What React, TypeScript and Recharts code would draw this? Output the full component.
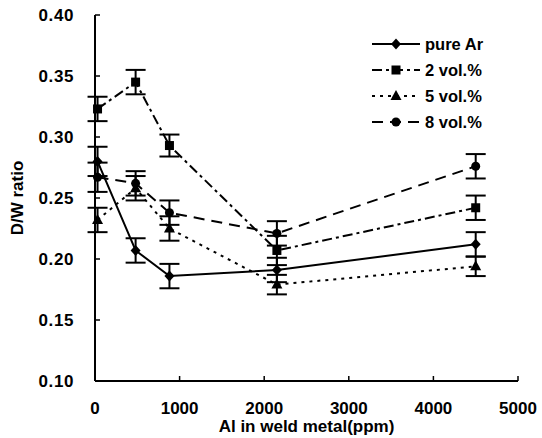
import React from 'react'
import { ErrorBar, Label, Legend, Line, LineChart, XAxis, YAxis } from 'recharts'

// Al content in weld metal (ppm)
const alPpm = [30, 480, 880, 2150, 4500]

// D/W ratio per shielding gas
const pureAr = [0.28, 0.207, 0.186, 0.191, 0.212]
const pureArErr = [0.012, 0.01, 0.01, 0.01, 0.01]
const vol2 = [0.323, 0.345, 0.293, 0.207, 0.242]
const vol2Err = [0.01, 0.01, 0.009, 0.012, 0.01]
const vol5 = [0.232, 0.258, 0.225, 0.179, 0.194]
const vol5Err = [0.01, 0.01, 0.01, 0.008, 0.008]
const vol8 = [0.267, 0.262, 0.238, 0.221, 0.276]
const vol8Err = [0.012, 0.01, 0.01, 0.01, 0.01]

const xTicks = [0, 1000, 2000, 3000, 4000, 5000]
const yTicks = [0.1, 0.15, 0.2, 0.25, 0.3, 0.35, 0.4]

const data = alPpm.map((al, i) => ({
  al,
  pureAr: pureAr[i],
  pureArErr: pureArErr[i],
  vol2: vol2[i],
  vol2Err: vol2Err[i],
  vol5: vol5[i],
  vol5Err: vol5Err[i],
  vol8: vol8[i],
  vol8Err: vol8Err[i],
}))

const FONT = '"Liberation Sans", Arial, Helvetica, sans-serif'

type Shape = 'diamond' | 'square' | 'triangle' | 'circle'

const Marker = ({ cx, cy, shape }: { cx: number; cy: number; shape: Shape }) => {
  if (cx == null || cy == null) return null
  switch (shape) {
    case 'diamond':
      return <polygon points={`${cx},${cy - 5.5} ${cx + 5},${cy} ${cx},${cy + 5.5} ${cx - 5},${cy}`} fill="#000" />
    case 'square':
      return <rect x={cx - 4.5} y={cy - 4.5} width={9} height={9} fill="#000" />
    case 'triangle':
      return <polygon points={`${cx},${cy - 6} ${cx + 5.5},${cy + 4} ${cx - 5.5},${cy + 4}`} fill="#000" />
    default:
      return <circle cx={cx} cy={cy} r={4.5} fill="#000" />
  }
}

const series = [
  { key: 'pureAr', name: 'pure Ar', shape: 'diamond' as Shape, dash: undefined },
  { key: 'vol2', name: '2 vol.%', shape: 'square' as Shape, dash: '10 4 3 4' },
  { key: 'vol5', name: '5 vol.%', shape: 'triangle' as Shape, dash: '3 5' },
  { key: 'vol8', name: '8 vol.%', shape: 'circle' as Shape, dash: '11 7' },
]

const XTick = (props: any) => {
  const { x, y, payload } = props
  return (
    <g>
      <line x1={x} x2={x} y1={y - 21} y2={y - 26} stroke="#000" strokeWidth={1.5} />
      <text x={x} y={y} dy="0.71em" textAnchor="middle" fontFamily={FONT} fontWeight="bold" fontSize={17} fill="#000">
        {payload.value}
      </text>
    </g>
  )
}

const YTick = (props: any) => {
  const { x, y, payload } = props
  return (
    <g>
      <line x1={x + 21} x2={x + 26} y1={y} y2={y} stroke="#000" strokeWidth={1.5} />
      <text x={x} y={y} dy="0.355em" textAnchor="end" fontFamily={FONT} fontWeight="bold" fontSize={17} fill="#000" letterSpacing={0.6}>
        {payload.value.toFixed(2)}
      </text>
    </g>
  )
}

const LegendBox = () => (
  <div style={{ fontFamily: FONT, fontWeight: 'bold', fontSize: 16.5, color: '#000' }}>
    {series.map((s) => (
      <div key={s.key} style={{ display: 'flex', alignItems: 'center', height: 26 }}>
        <svg width={50} height={14}>
          <line x1={1} x2={49} y1={7} y2={7} stroke="#000" strokeWidth={2} strokeDasharray={s.dash} />
          <Marker cx={25} cy={7} shape={s.shape} />
        </svg>
        <span style={{ marginLeft: 4 }}>{s.name}</span>
      </div>
    ))}
  </div>
)

export default function App() {
  return (
    <>
      <style>{`body { margin: 0; }`}</style>
      <LineChart width={542} height={438} data={data} margin={{ top: 15, right: 24, bottom: 0, left: 0 }}>
        <XAxis
          dataKey="al"
          type="number"
          domain={[0, 5000]}
          ticks={xTicks}
          height={57}
          tickSize={0}
          tickMargin={21}
          tick={<XTick />}
          axisLine={{ stroke: '#000', strokeWidth: 2 }}
          tickLine={false}
        >
          <Label
            value="Al in weld metal(ppm)"
            position="insideBottom"
            offset={6}
            style={{ fontFamily: FONT, fontWeight: 'bold', fontSize: 17, fill: '#000' }}
          />
        </XAxis>
        <XAxis xAxisId="top" orientation="top" type="number" domain={[0, 5000]} height={0} tick={false} tickLine={false} axisLine={{ stroke: '#000', strokeWidth: 2 }} />
        <YAxis
          type="number"
          domain={[0.1, 0.4]}
          ticks={yTicks}
          width={95}
          tickSize={0}
          tickMargin={21}
          tick={<YTick />}
          axisLine={{ stroke: '#000', strokeWidth: 2 }}
          tickLine={false}
        >
          <Label
            content={({ viewBox }: any) => (
              <text
                x={viewBox.x + 23}
                y={viewBox.y + viewBox.height / 2}
                transform={`rotate(-90, ${viewBox.x + 23}, ${viewBox.y + viewBox.height / 2})`}
                textAnchor="middle"
                fontFamily={FONT}
                fontWeight="bold"
                fontSize={17}
                fill="#000"
              >
                D/W ratio
              </text>
            )}
          />
        </YAxis>
        <YAxis yAxisId="right" orientation="right" type="number" domain={[0.1, 0.4]} width={0} tick={false} tickLine={false} axisLine={{ stroke: '#000', strokeWidth: 2 }} />
        <Legend
          layout="vertical"
          align="center"
          verticalAlign="middle"
          content={<LegendBox />}
          wrapperStyle={{ position: 'absolute', left: 371, top: 31, width: 150 }}
        />
        {series.map((s) => (
          <Line
            key={s.key}
            dataKey={s.key}
            name={s.name}
            type="linear"
            stroke="#000"
            strokeWidth={2}
            strokeDasharray={s.dash}
            dot={(p: any) => <Marker key={`${s.key}-${p.index}`} cx={p.cx} cy={p.cy} shape={s.shape} />}
            activeDot={false}
            isAnimationActive={false}
          >
            <ErrorBar dataKey={`${s.key}Err`} width={10} stroke="#000" strokeWidth={2} />
          </Line>
        ))}
      </LineChart>
    </>
  )
}
